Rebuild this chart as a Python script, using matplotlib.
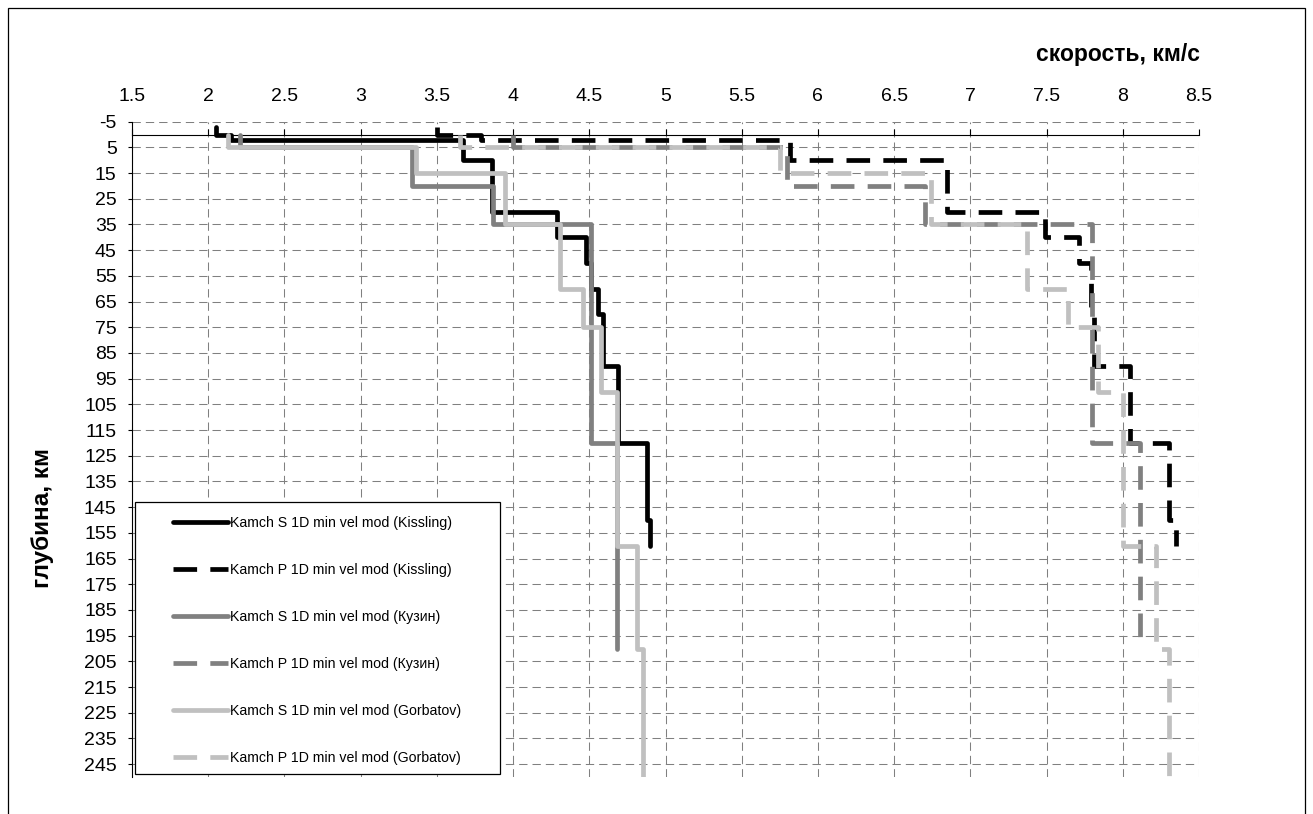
import matplotlib
matplotlib.use("Agg")
import matplotlib.pyplot as plt
from matplotlib.patches import Rectangle

plt.rcParams['font.family'] = ['Liberation Sans', 'DejaVu Sans']
plt.rcParams['axes.unicode_minus'] = False

# layer tops (km), model bottom (km) and velocities (km/s) for each 1D model
kiss_s_tops = [-3, 0, 2, 10, 30, 40, 50, 60, 70, 90, 120, 150]
kiss_s_bottom = 160
kiss_s_vel = [2.05, 2.15, 3.67, 3.86, 4.29, 4.48, 4.51, 4.56, 4.59, 4.69, 4.88, 4.90]

kiss_p_tops = [-3, 0, 2, 10, 30, 40, 50, 70, 90, 120, 150]
kiss_p_bottom = 160
kiss_p_vel = [3.50, 3.79, 5.82, 6.85, 7.49, 7.71, 7.79, 7.81, 8.05, 8.30, 8.35]

kuz_s_tops = [0, 5, 20, 35, 120]
kuz_s_bottom = 200
kuz_s_vel = [2.21, 3.34, 3.87, 4.51, 4.68]

kuz_p_tops = [0, 5, 20, 35, 120]
kuz_p_bottom = 200
kuz_p_vel = [4.00, 5.80, 6.70, 7.80, 8.11]

gorb_s_tops = [0, 5, 15, 35, 60, 75, 100, 160, 200]
gorb_s_bottom = 250
gorb_s_vel = [2.13, 3.36, 3.95, 4.31, 4.46, 4.58, 4.68, 4.81, 4.85]

gorb_p_tops = [0, 5, 15, 35, 60, 75, 100, 160, 200]
gorb_p_bottom = 250
gorb_p_vel = [3.65, 5.75, 6.74, 7.37, 7.64, 7.84, 8.00, 8.22, 8.30]

labels = [
    "Kamch S 1D min vel mod (Kissling)",
    "Kamch P 1D min vel mod (Kissling)",
    "Kamch S 1D min vel mod (Кузин)",
    "Kamch P 1D min vel mod (Кузин)",
    "Kamch S 1D min vel mod (Gorbatov)",
    "Kamch P 1D min vel mod (Gorbatov)",
]

x_ticks = [1.5, 2, 2.5, 3, 3.5, 4, 4.5, 5, 5.5, 6, 6.5, 7, 7.5, 8, 8.5]
y_ticks = list(range(-5, 250, 10))


def steps(tops, bottom, vel):
    bounds = list(tops[1:]) + [bottom]
    xs, ys = [], []
    for top, bot, v in zip(tops, bounds, vel):
        xs += [v, v]
        ys += [top, bot]
    return xs, ys


fig = plt.figure(figsize=(13.13, 8.14), dpi=100)
ax = fig.add_axes([132 / 1313, 1 - 777 / 814, 1067 / 1313, (777 - 121.7) / 814])

dash = (0, (5, 2.8))
series = [
    (kiss_s_tops, kiss_s_bottom, kiss_s_vel, 'black', '-'),
    (kiss_p_tops, kiss_p_bottom, kiss_p_vel, 'black', dash),
    (kuz_s_tops, kuz_s_bottom, kuz_s_vel, '#808080', '-'),
    (kuz_p_tops, kuz_p_bottom, kuz_p_vel, '#808080', dash),
    (gorb_s_tops, gorb_s_bottom, gorb_s_vel, '#c0c0c0', '-'),
    (gorb_p_tops, gorb_p_bottom, gorb_p_vel, '#c0c0c0', dash),
]
for (tops, bottom, vel, col, ls), lab in zip(series, labels):
    xs, ys = steps(tops, bottom, vel)
    ax.plot(xs, ys, color=col, linestyle=ls, lw=3.4, label=lab,
            solid_capstyle='round', solid_joinstyle='round',
            dash_capstyle='butt', dash_joinstyle='round', zorder=3)

ax.set_xlim(1.5, 8.5)
ax.set_ylim(250, -5)
ax.set_xticks(x_ticks)
ax.set_xticklabels([f"{t:g}" for t in x_ticks])
ax.set_yticks(y_ticks)

# x axis crosses at depth 0, labels on top
ax.xaxis.tick_top()
ax.spines['top'].set_position(('data', 0))
ax.spines['top'].set_linewidth(0.8)
ax.spines['bottom'].set_visible(False)
ax.spines['right'].set_visible(False)
ax.spines['left'].set_linewidth(0.8)
ax.tick_params(axis='x', direction='out', length=4, width=0.8, pad=17,
               labelsize=14, top=True, bottom=False)
ax.tick_params(axis='y', direction='out', length=3, width=0.8, pad=8,
               labelsize=14)

ax.grid(True, color='#808080', linestyle=(0, (8, 4.8)), lw=0.75, zorder=0)
ax.set_axisbelow(True)

# legend box (fixed size, like the original) with entries inside
ax.add_patch(Rectangle((3 / 1067, 3 / 655.3), 365 / 1067, 272 / 655.3,
                       transform=ax.transAxes, facecolor='white',
                       edgecolor='black', lw=0.9, zorder=4))
leg = ax.legend(loc='upper left', bbox_to_anchor=(41 / 1067, 261 / 655.3),
                borderaxespad=0, borderpad=0, fontsize=10.2, handlelength=3.9,
                handletextpad=0.15, labelspacing=2.33, frameon=False)
leg.set_zorder(5)

fig.text(1200 / 1313, 1 - 55 / 814, "скорость, км/с", ha='right', va='center',
         fontsize=16.5, fontweight='bold')
fig.text(42 / 1313, 1 - 518 / 814, "глубина, км", ha='center', va='center',
         rotation=90, fontsize=17.5, fontweight='bold')

# chart area border
fig.patches.append(Rectangle((8 / 1313, -0.05), 1297 / 1313, 1.05 - 8 / 814,
                             transform=fig.transFigure, fill=False,
                             edgecolor='black', lw=0.9))

fig.savefig('out.png', dpi=100)
